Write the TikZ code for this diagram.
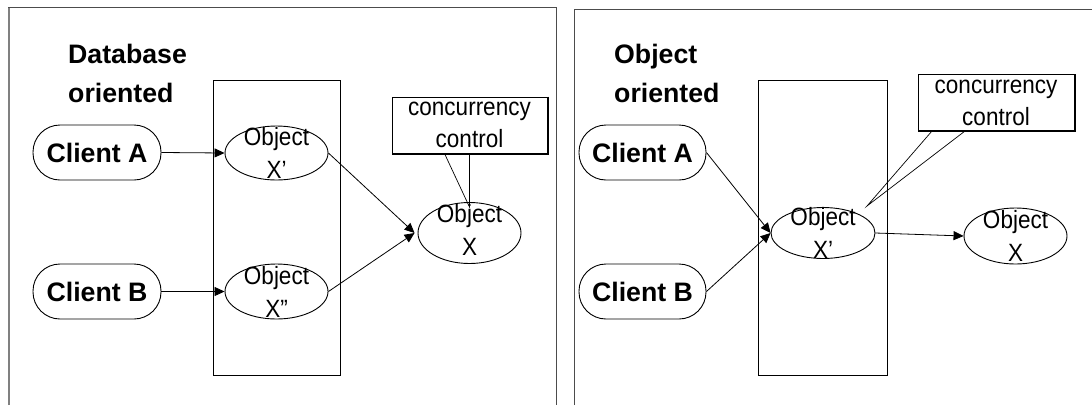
\documentclass[tikz,border=0pt]{standalone}
\usepackage{fontspec}
\setmainfont{Liberation Sans}
% narrow cut of the same face for the labels inside shapes
\newfontfamily\narrowfont{Liberation Sans}[FakeStretch=0.9]
\usetikzlibrary{shapes.geometric,arrows.meta}

\tikzset{
  frame/.style={draw=black!70, line width=1pt},
  title/.style={font=\bfseries\fontsize{26.7}{39}\selectfont, align=left, anchor=west, inner sep=0pt},
  client/.style={draw, line width=0.9pt, rectangle, rounded corners=27pt,
    minimum width=128pt, minimum height=55pt, inner sep=0pt,
    font=\bfseries\fontsize{26.7}{32}\selectfont},
  server/.style={draw, line width=0.9pt, rectangle, inner sep=0pt},
  obj/.style={draw, line width=0.9pt, ellipse, inner sep=0pt},
  objtext/.style={font=\narrowfont\fontsize{25}{33}\selectfont, align=center, inner sep=0pt},
  ccbox/.style={draw, line width=1pt, rectangle, inner sep=0pt,
    font=\narrowfont\fontsize{25}{32}\selectfont, align=center},
  arr/.style={line width=0.8pt, -{Triangle[length=10pt,width=9pt]}},
  callout/.style={line width=0.7pt}
}

\begin{document}
\begin{tikzpicture}[x=1pt, y=-1pt]
\useasboundingbox (0,0) rectangle (1092,405);
\fill[white] (0,0) rectangle (1092,405);

% ---------------- left panel: database oriented ----------------
\coordinate (lf-bl) at (9,405);
\coordinate (lf-tl) at (9,7.5);
\coordinate (lf-tr) at (556,7.5);
\coordinate (lf-br) at (556,405);
\draw[gray, line width=2pt] (lf-bl) -- (lf-tl);
\draw[frame] (8,7.5) -- (lf-tr) -- (lf-br);

\node[title] (t1) at (68,73) {Database\\oriented};

\node[server, minimum width=127pt, minimum height=295pt] (s1) at (276.5,227.5) {};

\node[client] (ca1) at (97,152.5) {Client A};
\node[client] (cb1) at (97,291.5) {Client B};

\node[obj, minimum width=103pt, minimum height=54pt] (xa1) at (276.5,153) {};
\node[objtext] (xa1t) at (xa1) {Object\\X’};
\node[obj, minimum width=103pt, minimum height=55pt] (xb1) at (276.5,291.5) {};
\node[objtext] (xb1t) at (xb1) {Object\\X”};

\node[obj, minimum width=103pt, minimum height=61pt] (x1) at (469.5,233) {};
\node[objtext] (x1t) at ([yshift=3pt]x1) {Object\\X};

\node[ccbox, minimum width=155pt, minimum height=56pt] (cc1) at (469.5,125) {concurrency\\control};
\draw[line width=2pt] (cc1.north east) -- (cc1.south east) -- (cc1.south west);

\coordinate (tip1) at (469.5,207);
\draw[callout] ([xshift=-25pt]cc1.south) -- (tip1) -- (cc1.south);

\draw[arr] (ca1.east) -- (xa1.west);
\draw[arr] (cb1.east) -- (xb1.west);
\draw[arr] (xa1.east) -- ([xshift=-3pt]x1.west);
\draw[arr] (xb1.east) -- ([xshift=-3pt]x1.west);

% ---------------- right panel: object oriented ----------------
\coordinate (rt-bl) at (574,405);
\coordinate (rt-tl) at (574,9.3);
\coordinate (rt-tr) at (1092,9.3);
\draw[frame] (rt-bl) -- (rt-tl) -- (rt-tr);

\node[title] (t2) at (614,73) {Object\\oriented};

\node[server, minimum width=129pt, minimum height=295pt] (s2) at (823,227.5) {};

\node[client, minimum width=127pt] (ca2) at (642.5,152.5) {Client A};
\node[client, minimum width=127pt] (cb2) at (642.5,291.5) {Client B};

\node[obj, minimum width=104pt, minimum height=51pt] (xa2) at (823,233) {};
\node[objtext] (xa2t) at (xa2) {Object\\X’};

\node[obj, minimum width=103pt, minimum height=56pt] (x2) at (1015.5,236) {};
\node[objtext] (x2t) at (x2) {Object\\X};

\node[ccbox, minimum width=156pt, minimum height=56pt] (cc2) at (996,102.5) {concurrency\\control};
\draw[line width=2pt] (cc2.north east) -- (cc2.south east) -- (cc2.south west);

\coordinate (tip2) at (867,206);
\draw[callout] ([xshift=-64pt]cc2.south) -- (tip2) -- ([xshift=-31pt]cc2.south);

\draw[arr] (ca2.east) -- (xa2.west);
\draw[arr] (cb2.east) -- (xa2.west);
\draw[arr] (xa2.east) -- (x2.west);
\end{tikzpicture}
\end{document}
